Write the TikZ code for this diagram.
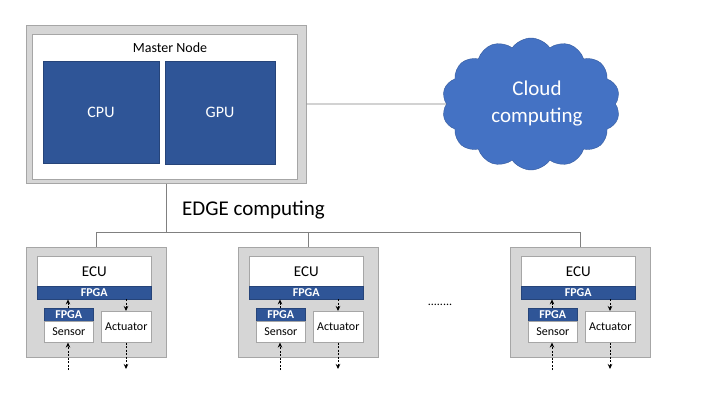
\documentclass[tikz,border=0pt]{standalone}
\usepackage{fontspec}
\setmainfont{Carlito}
\usetikzlibrary{shapes.symbols,arrows.meta}
\definecolor{framegray}{HTML}{D6D6D6}
\definecolor{edgegray}{HTML}{A6A6A6}
\definecolor{linegray}{HTML}{808080}
\definecolor{darkblue}{HTML}{2F5597}
\definecolor{cloudblue}{HTML}{4472C4}
\tikzset{
        graybox/.style={draw=edgegray,fill=framegray,line width=1pt,inner sep=0pt},
        whitebox/.style={draw=edgegray,fill=white,line width=0.6pt,inner sep=0pt},
        bluebox/.style={draw=darkblue!80!black,fill=darkblue,text=white,inner sep=0pt},
        busline/.style={draw=linegray,line width=0.8pt},
        smalltext/.style={font=\fontsize{12}{14}\selectfont},
        sigarrow/.style={dashed,dash pattern=on 2pt off 1.5pt,line width=0.8pt,-{Stealth[length=5pt,width=4.5pt]}}
    }

\begin{document}
\begin{tikzpicture}[x=1pt,y=-1pt]
\useasboundingbox (0,0) rectangle (720,405);

% master node
\draw (166,104) node(MASTER)[graybox,minimum width=280,minimum height=158]{};
\draw (164.5,106.5) node(INNER)[whitebox,minimum width=265,minimum height=145]{};
\draw (170,48) node(MNAME)[font=\fontsize{14}{16}\selectfont]{Master Node};
\draw (101,112) node(CPU)[bluebox,minimum width=116,minimum height=102,font=\fontsize{16}{18}\selectfont]{CPU};
\draw (220,112.5) node(GPU)[bluebox,minimum width=110,minimum height=103,font=\fontsize{16}{18}\selectfont]{GPU};

% cloud
\draw (531,104) node(CLOUD)[cloud,cloud puffs=14,cloud puff arc=110,aspect=1.5,draw=cloudblue!80!black,fill=cloudblue,text=white,align=center,minimum width=178,minimum height=132,inner sep=0pt,font=\fontsize{21}{27}\selectfont]{\hspace*{12pt}Cloud\\\hspace*{12pt}computing};
\draw[busline] (MASTER.east |- 0,104) -- (CLOUD.west);

% edge bus
\draw (182,210) node(EDGE)[anchor=west,inner sep=0pt,font=\fontsize{21}{24}\selectfont]{EDGE computing};
\coordinate (BUSL) at (96,232);
\coordinate (BUSR) at (580,232);
\draw[busline] (MASTER.south) -- (166,232);
\draw[busline] (BUSL) -- (BUSR);

\foreach \x/\n in {26/A,238/B,510/C}{
  \draw (\x,247) node(MOD\n)[graybox,anchor=north west,minimum width=140,minimum height=110]{};
  \draw (\x+11,256) node(ECU\n)[whitebox,anchor=north west,minimum width=114,minimum height=30,font=\fontsize{15}{17}\selectfont]{ECU};
  \draw (\x+11,286) node(FPGA\n)[bluebox,anchor=north west,minimum width=114,minimum height=13,font=\fontsize{12}{13}\selectfont\bfseries]{FPGA};
  \draw (\x+18,308) node(SFPGA\n)[bluebox,anchor=north west,minimum width=49,minimum height=13,font=\fontsize{12}{13}\selectfont\bfseries]{FPGA};
  \draw (\x+18,321) node(SENSOR\n)[whitebox,anchor=north west,minimum width=49,minimum height=21,smalltext]{Sensor};
  \draw (\x+75,311) node(ACT\n)[whitebox,anchor=north west,minimum width=50,minimum height=31,smalltext]{Actuator};
  \coordinate (IN\n) at (\x+42,370);
  \coordinate (OUT\n) at (\x+100,369);
  \draw[busline] (MOD\n.north |- BUSL) -- (MOD\n.north);
  \draw[sigarrow] (SFPGA\n.north -| IN\n) -- (FPGA\n.south -| IN\n);
  \draw[sigarrow] (FPGA\n.south -| OUT\n) -- (ACT\n.north -| OUT\n);
  \draw[sigarrow] (IN\n) -- (SENSOR\n.south -| IN\n);
  \draw[sigarrow] (ACT\n.south -| OUT\n) -- (OUT\n);
}

\draw (440,305) node(DOTS)[smalltext]{........};

\end{tikzpicture}
\end{document}
